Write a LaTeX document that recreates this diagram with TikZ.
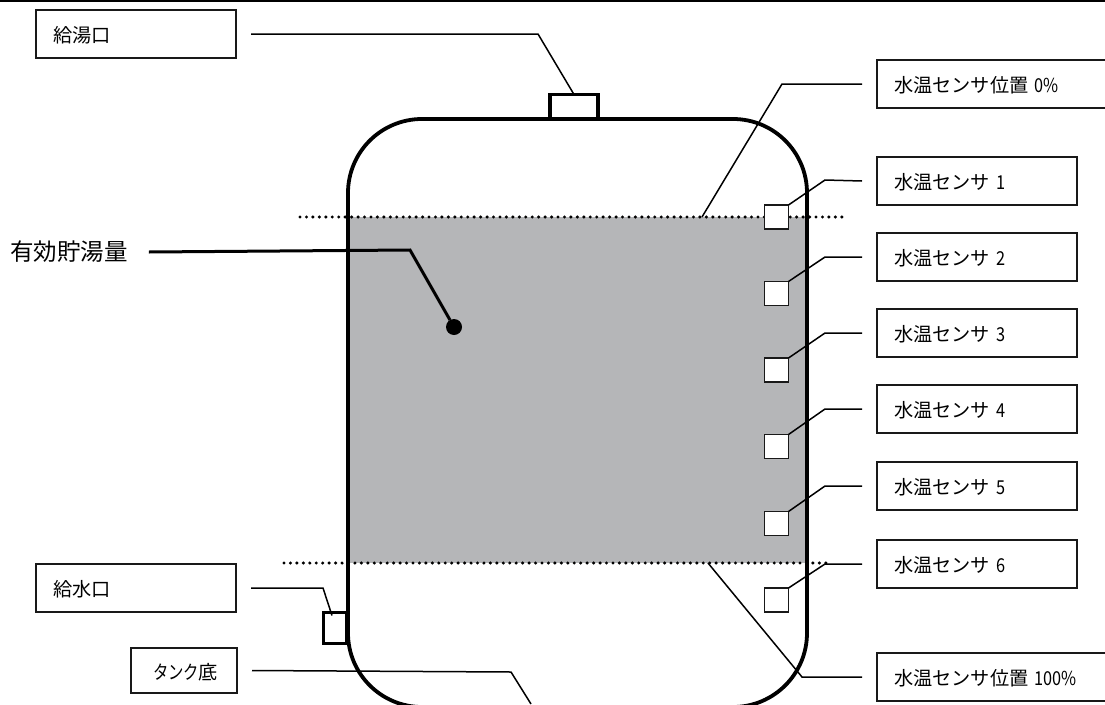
\documentclass[tikz,border=0pt]{standalone}
\usepackage{fontspec}
\setmainfont{Noto Sans CJK JP}
\usetikzlibrary{positioning,calc}
\definecolor{storegray}{HTML}{B5B6B8}
\newcommand{\narrownum}[1]{\scalebox{0.85}[1]{#1}}

\begin{document}
\begin{tikzpicture}[
  x=1pt, y=-1pt,
  label box/.style={draw=black!90, line width=1.5pt, anchor=north west, align=left,
                    inner xsep=17pt, inner ysep=0pt, outer sep=0pt, minimum height=48pt,
                    text width=#1, text height=20pt, text depth=2.2pt,
                    font=\fontsize{19.2}{22}\selectfont},
  label box/.default=166pt,
  sensor/.style={draw=black!90, fill=white, line width=1.5pt, minimum size=24pt,
                 inner sep=0pt, outer sep=0pt},
  port/.style={draw=black, fill=white, line width=3.6pt, inner sep=0pt, outer sep=0pt},
  tank/.style={draw=black, line width=3.8pt},
  lead/.style={line width=1.5pt, black},
  level/.style={line width=3.4pt, line cap=round, dash pattern=on 0pt off 6.45pt},
]
  \useasboundingbox (0,0) rectangle (1105,704);
  \clip (0,0) rectangle (1105,704);
  \draw[line width=3pt] (0,0) -- (1105,0);

  % usable volume band and the two levels
  \fill[storegray] (348,217) rectangle (807,563);
  \coordinate (lv0a) at (300,217);
  \coordinate (lv0b) at (848,217);
  \coordinate (lv1a) at (284,563);
  \coordinate (lv1b) at (830,563);
  \draw[level] (lv0a) -- (lv0b);
  \draw[level] (lv1a) -- (lv1b);

  % tank body
  \draw[tank, rounded corners=74pt] (348,119) rectangle (807,707);
  \node[port, minimum width=48pt, minimum height=24pt] (hot) at (574,106.5) {};
  \node[port, minimum width=23pt, minimum height=31pt] (cold) at (335,628) {};

  % labels on the left
  \node[label box=166pt] (lhot) at (36,10) {給湯口};
  \node[label box=72pt, minimum height=45pt] (lbot) at (131,648)
    {\hspace{5pt}\scalebox{0.8}[1]{タンク}\hspace{-1pt}底};
  \node[label box=166pt] (lcold) at (36,564) {給水口};
  \node[anchor=west, inner sep=0pt, font=\fontsize{23.5}{26}\selectfont] (vol) at (10,252) {有効貯湯量};
  \node[circle, fill=black, minimum size=16pt, inner sep=0pt, outer sep=0pt] (volpt) at (454,327) {};

  % labels and sensors on the right
  \node[label box=240pt] (lzero) at (877,60) {水温センサ位置 \narrownum{0\%}};
  \node[label box=240pt] (lfull) at (877,653) {水温センサ位置 \narrownum{100\%}};
  \foreach \n/\by in {1/157, 2/233, 3/309, 4/385, 5/462, 6/540}
    \node[label box] (l\n) at (877,\by) {水温センサ \narrownum{\n}};
  \foreach \n/\sy in {1/217, 2/293.5, 3/370, 4/446.5, 5/523.5, 6/600}
    \node[sensor] (s\n) at (776.5,\sy) {};

  % leaders
  \foreach \n/\ky in {1/180, 2/257, 3/333, 4/409, 5/486, 6/564}
    \draw[lead] (s\n.north east) -- (825,\ky) -- ($(862,0)!(l\n.west)!(862,1)$);
  \draw[lead] (hot.north) -- (538,34) -- ([xshift=15pt]lhot.east);
  \draw[lead] ([xshift=-3pt,yshift=-3pt]cold.north) -- (323,588) -- ([xshift=15pt]lcold.east);
  \coordinate (botend) at (531,704);
  \draw[lead] (botend) -- (511,672) -- ([xshift=15pt]lbot.east);
  \coordinate (z0) at (702,217);
  \draw[lead] (z0) -- (782,84) -- ([xshift=-15pt]lzero.west);
  \coordinate (z1) at (708,563);
  \draw[lead] (z1) -- (802,677) -- ([xshift=-15pt]lfull.west);
  \draw[line width=3pt] (volpt) -- (410,250) -- ([xshift=21pt]vol.east);
\end{tikzpicture}
\end{document}
